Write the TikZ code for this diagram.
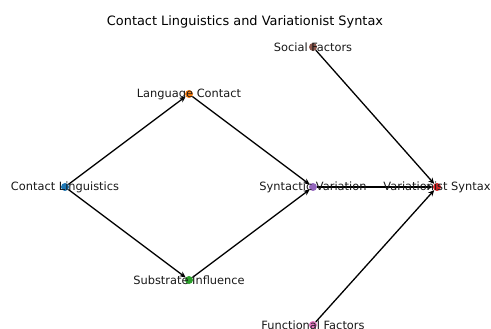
\documentclass[tikz,border=0pt]{standalone}
\usepackage{fontspec}
\setmainfont{DejaVu Sans}
\usetikzlibrary{arrows.meta}
\definecolor{TabBlue}{HTML}{1F77B4}
\definecolor{TabOrange}{HTML}{FF7F0E}
\definecolor{TabGreen}{HTML}{2CA02C}
\definecolor{TabRed}{HTML}{D62728}
\definecolor{TabPurple}{HTML}{9467BD}
\definecolor{TabBrown}{HTML}{8C564B}
\definecolor{TabPink}{HTML}{E377C2}
\definecolor{TipNavy}{HTML}{1A2A4A}

\begin{document}
\begin{tikzpicture}[x=1pt,y=-1pt,
  dot/.style={circle,inner sep=0pt,minimum size=8pt},
  lbl/.style={font=\fontsize{11.4}{13}\selectfont,text=black!90,inner sep=0pt},
  arrow/.style={-{Stealth[length=6pt,width=5.5pt,fill=TipNavy]},line width=1.3pt,draw=black}]
\useasboundingbox(0,0)rectangle(491,329);
\node[font=\fontsize{12.9}{15}\selectfont](title)at(245,22){Contact Linguistics and Variationist Syntax};
% nodes
\node[dot,fill=TabBlue](contact)at(65,187){};
\node[dot,fill=TabOrange](langcontact)at(189,94){};
\node[dot,fill=TabGreen](substrate)at(189,280){};
\node[dot,fill=TabPurple](synvar)at(313,187){};
\node[dot,fill=TabRed](varsyn)at(437,187){};
\node[dot,fill=TabBrown](social)at(313,47){};
\node[dot,fill=TabPink](functional)at(313,325){};
% edges
\draw[arrow](contact)--(langcontact);\draw[arrow](contact)--(substrate);
\draw[arrow](langcontact)--(synvar);\draw[arrow](substrate)--(synvar);
\draw[arrow](synvar)--(varsyn);
\draw[arrow](social)--(varsyn);\draw[arrow](functional)--(varsyn);
% labels
\node[lbl]at(contact){Contact Linguistics};
\node[lbl]at(langcontact){Language Contact};
\node[lbl]at(substrate){Substrate Influence};
\node[lbl]at(synvar){Syntactic Variation};
\node[lbl]at(varsyn){Variationist Syntax};
\node[lbl]at(social){Social Factors};
\node[lbl]at(functional){Functional Factors};
\end{tikzpicture}
\end{document}
